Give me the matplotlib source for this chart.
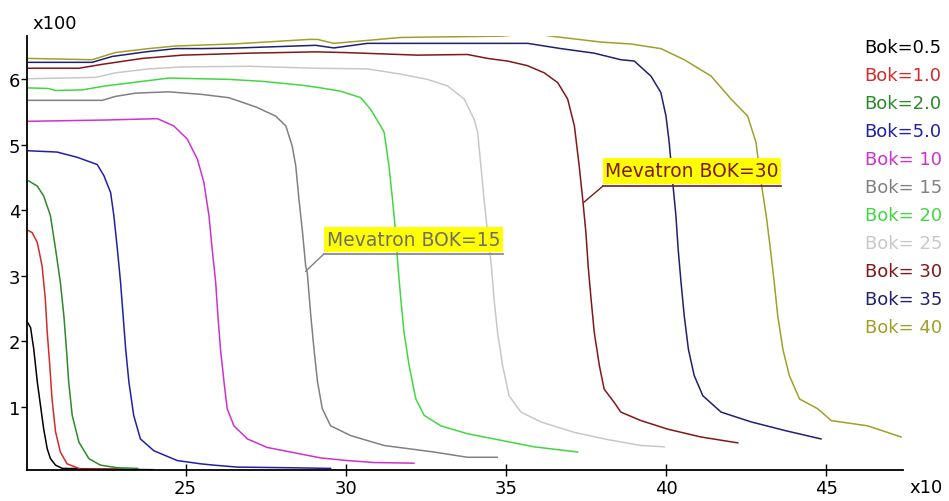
import matplotlib
matplotlib.use("Agg")
import matplotlib.pyplot as plt
from matplotlib.patches import Rectangle

plt.rcParams['font.family'] = ['DejaVu Sans']

# values: x in units of 10, y in units of 100
labels = ['Bok=0.5', 'Bok=1.0', 'Bok=2.0', 'Bok=5.0', 'Bok= 10', 'Bok= 15',
          'Bok= 20', 'Bok= 25', 'Bok= 30', 'Bok= 35', 'Bok= 40']
colors = ['#000000', '#d42a2a', '#2a8a2a', '#2020a8', '#d030d0', '#808080',
          '#40d840', '#c8c8c8', '#801818', '#202070', '#a0a028']

x_05 = [20.08, 20.16, 20.26, 20.37, 20.47, 20.57, 20.68, 20.78, 20.94, 21.15, 24.0]
y_05 = [2.28, 2.21, 1.88, 1.38, 1.02, 0.66, 0.36, 0.21, 0.11, 0.06, 0.04]

x_10 = [20.10, 20.21, 20.37, 20.52, 20.62, 20.68, 20.76, 20.83, 20.94, 21.09, 21.30, 21.72, 22.91]
y_10 = [3.69, 3.66, 3.51, 3.15, 2.65, 2.14, 1.63, 1.12, 0.62, 0.31, 0.13, 0.05, 0.05]

x_20 = [20.10, 20.37, 20.57, 20.78, 20.94, 21.09, 21.20, 21.28, 21.35, 21.46, 21.67, 21.98,
        22.34, 22.87, 23.5]
y_20 = [4.45, 4.37, 4.22, 3.92, 3.41, 2.90, 2.39, 1.88, 1.38, 0.87, 0.46, 0.21,
        0.11, 0.07, 0.06]

x_50 = [20.10, 20.99, 21.62, 22.24, 22.45, 22.66, 22.76, 22.87, 22.97, 23.05, 23.13, 23.23,
        23.38, 23.59, 24.01, 24.74, 25.47, 25.88, 26.62, 28.28, 29.53]
y_50 = [4.91, 4.89, 4.81, 4.70, 4.53, 4.27, 3.92, 3.41, 2.90, 2.39, 1.88, 1.38,
        0.87, 0.51, 0.33, 0.18, 0.13, 0.11, 0.08, 0.07, 0.06]

x_100 = [20.10, 22.55, 24.12, 24.63, 25.05, 25.37, 25.57, 25.73, 25.83, 25.94, 26.01, 26.09,
         26.20, 26.30, 26.51, 26.93, 27.55, 28.28, 29.22, 30.05, 30.88, 32.13]
y_100 = [5.36, 5.38, 5.40, 5.29, 5.09, 4.78, 4.43, 3.92, 3.41, 2.90, 2.39, 1.88,
         1.38, 0.97, 0.71, 0.51, 0.38, 0.31, 0.22, 0.18, 0.15, 0.14]

x_150 = [20.10, 22.40, 22.81, 23.44, 24.48, 25.52, 26.35, 27.19, 27.81, 28.13, 28.33, 28.44,
         28.54, 28.65, 28.75, 28.80, 28.91, 29.01, 29.12, 29.27, 29.53, 30.16, 31.20,
         32.76, 33.80, 34.73]
y_150 = [5.68, 5.68, 5.74, 5.79, 5.81, 5.77, 5.72, 5.58, 5.44, 5.29, 4.98, 4.68,
         4.17, 3.67, 3.15, 3.05, 2.39, 1.88, 1.38, 0.97, 0.71, 0.56, 0.41,
         0.31, 0.23, 0.23]

x_200 = [20.10, 20.73, 20.94, 21.77, 22.50, 23.65, 24.48, 26.35, 27.40, 28.65, 29.22, 29.84,
         30.47, 30.78, 31.09, 31.20, 31.35, 31.46, 31.56, 31.63, 31.72, 31.82, 31.98,
         32.19, 32.45, 32.97, 33.80, 34.84, 35.88, 37.24]
y_200 = [5.87, 5.86, 5.83, 5.84, 5.90, 5.97, 6.02, 6.00, 5.97, 5.91, 5.87, 5.82,
         5.72, 5.54, 5.29, 5.19, 4.68, 4.17, 3.66, 3.15, 2.65, 2.14, 1.63,
         1.12, 0.87, 0.71, 0.59, 0.49, 0.39, 0.31]

x_250 = [20.10, 22.19, 22.81, 23.85, 24.90, 26.98, 29.06, 30.68, 31.72, 32.55, 33.18, 33.70,
         34.01, 34.12, 34.22, 34.32, 34.43, 34.55, 34.63, 34.74, 34.90, 35.10, 35.47,
         36.09, 37.14, 38.18, 39.22, 39.95]
y_250 = [6.01, 6.03, 6.10, 6.16, 6.19, 6.20, 6.17, 6.16, 6.08, 6.00, 5.90, 5.70,
         5.39, 5.19, 4.68, 4.17, 3.66, 3.15, 2.65, 2.14, 1.63, 1.17, 0.92,
         0.77, 0.61, 0.50, 0.41, 0.39]

x_300 = [20.10, 21.67, 22.40, 23.65, 24.90, 26.98, 29.06, 29.95, 32.24, 33.80, 34.43, 35.05,
         35.67, 36.20, 36.62, 36.93, 37.14, 37.29, 37.40, 37.50, 37.57, 37.66, 37.76,
         37.92, 38.07, 38.38, 38.59, 39.22, 40.05, 41.09, 42.24]
y_300 = [6.17, 6.17, 6.23, 6.32, 6.37, 6.40, 6.42, 6.41, 6.37, 6.38, 6.32, 6.28,
         6.21, 6.10, 5.95, 5.70, 5.29, 4.68, 4.17, 3.66, 3.15, 2.65, 2.14,
         1.63, 1.27, 1.07, 0.92, 0.79, 0.66, 0.54, 0.45]

x_350 = [20.10, 22.08, 22.71, 23.75, 24.69, 25.52, 26.67, 29.06, 29.63, 30.68, 35.68, 36.72,
         37.76, 38.59, 39.01, 39.53, 39.84, 40.00, 40.10, 40.21, 40.31, 40.38, 40.47,
         40.57, 40.70, 40.88, 41.15, 41.72, 42.66, 43.70, 44.84]
y_350 = [6.26, 6.26, 6.35, 6.42, 6.47, 6.47, 6.48, 6.52, 6.48, 6.55, 6.55, 6.47,
         6.40, 6.30, 6.28, 6.05, 5.80, 5.44, 5.04, 4.43, 3.92, 3.41, 2.90,
         2.39, 1.88, 1.48, 1.17, 0.92, 0.77, 0.64, 0.51]

x_400 = [20.10, 22.08, 22.81, 23.85, 24.69, 26.46, 28.85, 29.12, 29.63, 31.72, 34.84, 35.88,
         36.41, 37.97, 38.91, 39.84, 40.57, 41.41, 42.03, 42.55, 42.81, 42.97, 43.13,
         43.26, 43.38, 43.49, 43.65, 43.85, 44.17, 44.74, 45.16, 46.30, 47.34]
y_400 = [6.32, 6.30, 6.41, 6.47, 6.51, 6.54, 6.61, 6.61, 6.55, 6.64, 6.66, 6.70,
         6.66, 6.57, 6.54, 6.47, 6.30, 6.05, 5.70, 5.44, 5.04, 4.43, 3.92,
         3.41, 2.90, 2.39, 1.88, 1.48, 1.12, 0.97, 0.79, 0.71, 0.54]

xs = [x_05, x_10, x_20, x_50, x_100, x_150, x_200, x_250, x_300, x_350, x_400]
ys = [y_05, y_10, y_20, y_50, y_100, y_150, y_200, y_250, y_300, y_350, y_400]

x_ticks = [25, 30, 35, 40, 45]
y_ticks = [1, 2, 3, 4, 5, 6]

fig = plt.figure(figsize=(9.49, 5.02), dpi=100)
ax = fig.add_axes([0.0285, 0.061, 0.923, 0.865])

for x, y, c in zip(xs, ys, colors):
    ax.plot(x, y, color=c, lw=1.1, solid_joinstyle='miter')

ax.set_xlim(20.05, 47.4)
ax.set_ylim(0.03, 6.66)
ax.set_xticks(x_ticks)
ax.set_yticks(y_ticks)
ax.tick_params(axis='x', direction='inout', length=8, width=1, labelsize=13, pad=2)
ax.tick_params(axis='y', direction='out', length=4, width=1, labelsize=13, pad=1)
for s in ['top', 'right']:
    ax.spines[s].set_visible(False)
for s in ['left', 'bottom']:
    ax.spines[s].set_linewidth(1.3)

fig.text(0.058, 0.953, 'x100', fontsize=13, ha='center', va='center')
fig.text(0.976, 0.028, 'x10', fontsize=13, ha='center', va='center')

# legend as coloured text on the right
for i, (lab, c) in enumerate(zip(labels, colors)):
    fig.text(0.911, 0.904 - i * 0.0558, lab, color=c, fontsize=13, ha='left', va='center')

# callout labels
def callout(text, box, target, color, textcolor):
    x0, x1, y0, y1 = box
    ax.add_patch(Rectangle((x0, y0), x1 - x0, y1 - y0, facecolor='#ffff00',
                           edgecolor='none', zorder=5))
    ax.text((x0 + x1) / 2, (y0 + y1) / 2 + 0.01, text, color=textcolor, fontsize=13.5,
            ha='center', va='center', zorder=6)
    ax.plot([x0, x1], [y0 - 0.03, y0 - 0.03], color=color, lw=1.2, zorder=6)
    ax.plot([x0, target[0]], [y0 - 0.03, target[1]], color=color, lw=1.0, zorder=6)

callout('Mevatron BOK=15', (29.31, 34.91, 3.36, 3.74), (28.75, 3.07), '#808080', '#6e6e6e')
callout('Mevatron BOK=30', (38.03, 43.59, 4.40, 4.80), (37.44, 4.125), '#801818', '#801818')

fig.savefig('out.png', dpi=100)
